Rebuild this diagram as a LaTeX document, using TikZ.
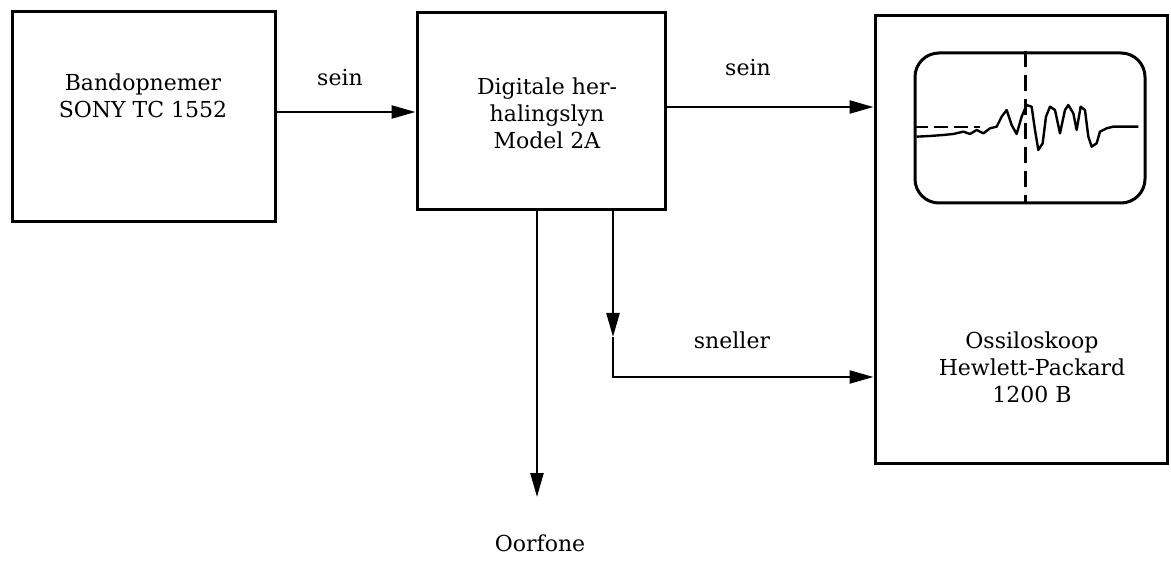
\documentclass[tikz,border=0pt]{standalone}
\usepackage{fontspec}
\setmainfont{DejaVu Serif}
\usetikzlibrary{arrows.meta}
\begin{document}
\begin{tikzpicture}[x=1pt,y=-1pt,
  box/.style={draw, line width=3pt, inner sep=0pt},
  txt/.style={align=center, font=\fontsize{22}{27}\selectfont, inner sep=0pt},
  arr/.style={line width=2.4pt, -{Triangle[length=24pt,width=13pt]}},
  wire/.style={line width=2.4pt}]
\useasboundingbox (0,0) rectangle (1171,564);
% boxes
\node[box, minimum width=263pt, minimum height=210pt] (b1) at (143.5,117) {};
\node[box, minimum width=248pt, minimum height=197pt] (b2) at (541,111.5) {};
\node[box, minimum width=292pt, minimum height=447pt] (b3) at (1021,239.5) {};
% texts
\node[txt] (t1) at (143,96) {Bandopnemer\\SONY TC 1552};
\node[txt] (t2) at (547,113) {Digitale her-\\halingslyn\\Model 2A};
\node[txt] (t3) at (1032,367) {Ossiloskoop\\Hewlett-Packard\\1200 B};
\node[txt] (l1) at (340,78) {sein};
\node[txt] (l2) at (748,68) {sein};
\node[txt] (l3) at (732,340) {sneller};
\node[txt] (oor) at (540,543) {Oorfone};
% coordinates
\coordinate (y1) at (0,112);
\coordinate (y2) at (0,107);
\coordinate (d1) at (613,337);
\coordinate (c1) at (613,377);
\coordinate (o1) at (537,497);
% connectors
\draw[arr] (b1.east |- y1) -- (b2.west |- y1);
\draw[arr] (b2.east |- y2) -- (b3.west |- y2);
\draw[arr] (b2.south -| d1) -- (d1);
\draw[arr] (d1) -- (c1) -- (b3.west |- c1);
\draw[arr] (b2.south -| o1) -- (o1);
% oscilloscope screen
\node[draw, line width=3pt, rounded corners=24pt, minimum width=230pt, minimum height=150pt, inner sep=0pt] (scr) at (1030,128) {};
\draw[line width=3pt, dash pattern=on 16pt off 8pt] (scr.north -| 1025,0) -- (scr.south -| 1025,0);
\draw[line width=2.6pt, dash pattern=on 14pt off 6pt] (scr.west |- 0,127) -- (980,127);
\begin{scope}[shift={(870,10)}, x=0.3333pt, y=-0.3333pt]
\draw[line width=2.4pt, line join=round] plot coordinates {
(140,380) (180,378) (220,375) (250,372) (280,365) (300,372) (320,360) (340,370) (360,355) (380,350) (395,320) (410,300) (425,345) (440,372) (455,320) (470,285) (485,290) (495,360) (505,420) (518,400) (528,320) (540,290) (555,300) (570,370) (585,300) (595,285) (610,310) (620,360) (632,290) (645,300) (655,380) (665,410) (680,400) (690,365) (710,355) (730,350) (805,350)};
\end{scope}
\end{tikzpicture}
\end{document}
